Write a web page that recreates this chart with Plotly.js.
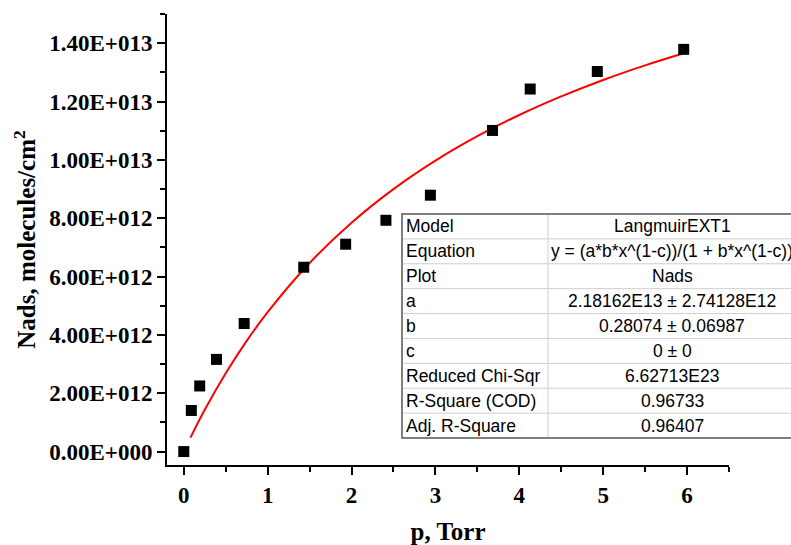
<!DOCTYPE html>
<html>
<head>
<meta charset="utf-8">
<script src="https://cdn.plot.ly/plotly-3.0.1.min.js"></script>
<style>
  html, body { margin: 0; padding: 0; background: #fff; }
  #chart { width: 791px; height: 545px; }
</style>
</head>
<body>
<div id="chart"></div>
<script>
// Measured adsorption: pressure (Torr) vs. adsorbed amount (molecules/cm^2)
const pressure = [0.0, 0.09, 0.19, 0.39, 0.72, 1.43, 1.93, 2.41, 2.94, 3.68, 4.13, 4.93, 5.96];
const nads = [0.0, 1.41e12, 2.25e12, 3.16e12, 4.39e12, 6.32e12, 7.11e12, 7.93e12, 8.79e12, 1.101e13, 1.243e13, 1.303e13, 1.379e13];

// Langmuir fit curve values (a = 2.18162E13, b = 0.28074, c = 0)
const fitP = [0.08, 0.25, 0.5, 0.75, 1.0, 1.5, 2.0, 2.5, 3.0, 3.5, 4.0, 4.5, 5.0, 5.5, 5.96];
const fitN = [4.79e11, 1.431e12, 2.685e12, 3.795e12, 4.782e12, 6.465e12, 7.845e12, 8.997e12,
              9.974e12, 1.0812e13, 1.1540e13, 1.2177e13, 1.2740e13, 1.3241e13, 1.3655e13];

// Axis ticks
const xTicks = [0, 1, 2, 3, 4, 5, 6];
const yTicks = [0, 2e12, 4e12, 6e12, 8e12, 1e13, 1.2e13, 1.4e13];
const yTickText = ['0.00E+000', '2.00E+012', '4.00E+012', '6.00E+012', '8.00E+012',
                   '1.00E+013', '1.20E+013', '1.40E+013'];

// Fit report table
const reportLabels = ['Model', 'Equation', 'Plot', 'a', 'b', 'c',
                      'Reduced Chi-Sqr', 'R-Square (COD)', 'Adj. R-Square'];
const reportValues = ['LangmuirEXT1', 'y = (a*b*x^(1-c))/(1 + b*x^(1-c))', 'Nads',
                      '2.18162E13 \u00b1 2.74128E12', '0.28074 \u00b1 0.06987', '0 \u00b1 0',
                      '6.62713E23', '0.96733', '0.96407'];

const serif = '"Times New Roman", "Liberation Serif", serif';
const sans = 'Arial, "Liberation Sans", sans-serif';

const W = 791, H = 545;
const M = { l: 167, r: 62, t: 14, b: 80 };
const plotW = W - M.l - M.r, plotH = H - M.t - M.b;
// pixel -> paper helpers for the report table
const px = (x) => (x - M.l) / plotW;
const py = (y) => (H - M.b - y) / plotH;

const tblLeft = 402, tblMid = 548, tblRight = 796, tblTop = 214, tblBottom = 438;
const rowH = (tblBottom - tblTop) / reportLabels.length;

const shapes = [];
const annotations = [];

// table background and outer frame
shapes.push({
  type: 'rect', xref: 'paper', yref: 'paper', layer: 'above',
  x0: px(tblLeft), x1: px(tblRight), y0: py(tblBottom), y1: py(tblTop),
  fillcolor: '#ffffff', line: { color: '#555555', width: 1.5 }
});
// inner row separators
for (let i = 1; i < reportLabels.length; i++) {
  const y = tblTop + i * rowH;
  shapes.push({
    type: 'line', xref: 'paper', yref: 'paper', layer: 'above',
    x0: px(tblLeft + 1), x1: px(tblRight), y0: py(y), y1: py(y),
    line: { color: '#cfcfcf', width: 1 }
  });
}
// column divider
shapes.push({
  type: 'line', xref: 'paper', yref: 'paper', layer: 'above',
  x0: px(tblMid), x1: px(tblMid), y0: py(tblBottom - 1), y1: py(tblTop + 1),
  line: { color: '#cfcfcf', width: 1 }
});

reportLabels.forEach((lab, i) => {
  const yc = tblTop + (i + 0.5) * rowH;
  annotations.push({
    xref: 'paper', yref: 'paper', x: px(tblLeft + 2), y: py(yc),
    xanchor: 'left', yanchor: 'middle', showarrow: false, text: lab,
    font: { family: sans, size: 17.5, color: '#000' }
  });
  annotations.push({
    xref: 'paper', yref: 'paper', x: px((tblMid + tblRight) / 2), y: py(yc),
    xanchor: 'center', yanchor: 'middle', showarrow: false, text: reportValues[i],
    font: { family: sans, size: 17.5, color: '#000' }
  });
});

const traces = [
  {
    x: fitP, y: fitN, type: 'scatter', mode: 'lines',
    line: { color: '#ff0000', width: 2, shape: 'spline' }, hoverinfo: 'skip'
  },
  {
    x: pressure, y: nads, type: 'scatter', mode: 'markers',
    marker: { symbol: 'square', size: 11, color: '#000000' }, cliponaxis: false
  }
];

const axisCommon = {
  showline: true, linecolor: '#000', linewidth: 2, mirror: false,
  showgrid: false, zeroline: false,
  ticks: 'outside', ticklen: 8, tickwidth: 2, tickcolor: '#000',
  tickfont: { family: serif, size: 23, color: '#000', weight: 'bold' }
};

const layout = {
  width: W, height: H,
  margin: { l: M.l, r: M.r, t: M.t, b: M.b, pad: 0 },
  paper_bgcolor: '#fff', plot_bgcolor: '#fff',
  showlegend: false,
  xaxis: Object.assign({}, axisCommon, {
    range: [-0.2, 6.5], tickmode: 'array', tickvals: xTicks,
    minor: { ticks: 'outside', ticklen: 5, tickwidth: 2, tickcolor: '#000', dtick: 0.5, tick0: 0 },
    title: { text: 'p, Torr', standoff: 20, font: { family: serif, size: 25, color: '#000', weight: 'bold' } }
  }),
  yaxis: Object.assign({}, axisCommon, {
    range: [-4.6e11, 1.5002e13], tickmode: 'array', tickvals: yTicks, ticktext: yTickText,
    minor: { ticks: 'outside', ticklen: 5, tickwidth: 2, tickcolor: '#000', dtick: 1e12, tick0: 0 },
    title: { text: 'Nads, molecules/cm<sup>2</sup>', standoff: 6, font: { family: serif, size: 25, color: '#000', weight: 'bold' } }
  }),
  shapes: shapes,
  annotations: annotations
};

Plotly.newPlot('chart', traces, layout, { displayModeBar: false, staticPlot: true });
</script>
</body>
</html>
